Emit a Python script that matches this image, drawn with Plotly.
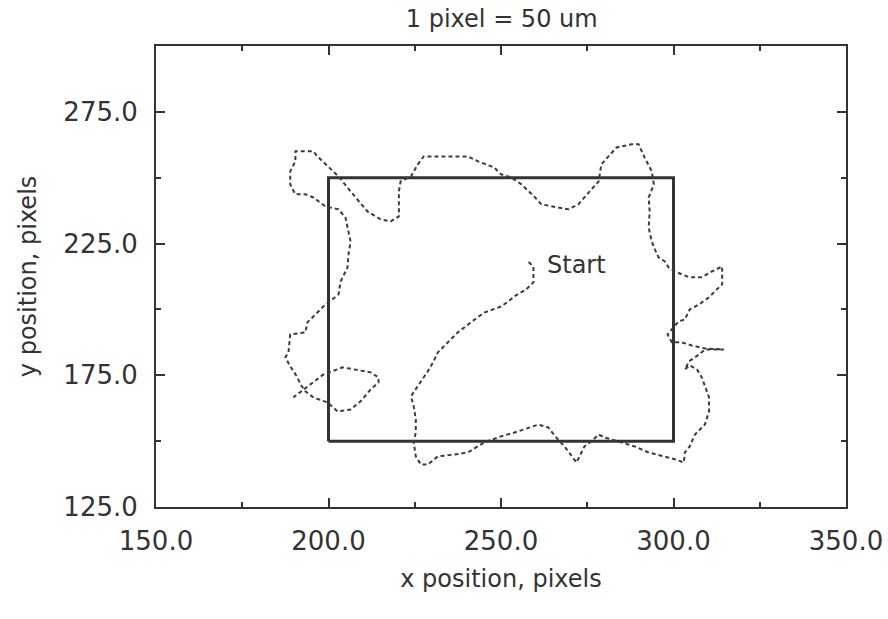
import plotly.graph_objects as go

# Cell trajectory (x, y in pixels), from "Start" to the end
path_x = [258.0, 259.4, 259.4, 257.3, 253.8, 252.1, 250.0, 245.1, 241.3, 237.5,
          234.6, 231.7, 230.3, 228.8, 226.8, 224.7, 223.9, 224.7, 225.3, 225.3,
          224.7, 225.3, 226.8, 228.8, 231.7, 236.4, 240.4, 245.1, 250.0, 255.0,
          260.8, 263.7, 266.0, 268.4, 271.9, 274.2, 276.2, 278.3, 280.0, 285.0,
          288.7, 292.8, 297.5, 300.4, 303.0, 303.3, 304.7, 306.2, 309.1, 310.3,
          310.3, 309.1, 308.2, 306.8, 304.7, 303.3, 304.5, 307.4, 309.1, 314.6,
          309.1, 305.3, 302.4, 299.5, 298.3, 299.5, 301.5, 303.3, 304.7, 307.4,
          310.3, 312.0, 314.1, 314.1, 311.1, 308.2, 304.5, 300.4, 298.6, 297.5,
          295.7, 294.6, 293.7, 292.8, 293.1, 292.8, 294.3, 293.7, 291.6, 289.9,
          287.9, 283.5, 281.2, 279.1, 278.3, 275.4, 272.4, 269.5, 265.5, 261.7,
          259.6, 255.9, 253.0, 250.0, 248.0, 243.4, 240.4, 231.7, 227.6, 225.9,
          223.9, 220.9, 220.4, 220.4, 218.0, 215.1, 211.3, 206.4, 202.9, 196.8,
          195.6, 190.4, 190.4, 188.9, 188.9, 190.4, 193.3, 195.6, 199.1, 202.9,
          204.9, 206.4, 205.8, 205.5, 203.5, 202.9, 200.0, 198.5, 195.6, 193.9,
          193.3, 188.9, 188.4, 187.5, 188.9, 191.0, 191.9, 193.3, 195.6, 199.7,
          202.6, 206.4, 209.3, 212.2, 214.5, 214.5, 212.2, 210.2, 204.1, 198.5,
          193.9, 189.8]
path_y = [218.0, 216.3, 210.3, 207.6, 204.9, 203.0, 201.1, 198.8, 195.1, 191.3,
          187.5, 183.7, 179.9, 176.5, 172.7, 168.9, 167.0, 163.2, 158.3, 153.3,
          149.5, 144.2, 141.1, 141.1, 144.2, 144.9, 145.7, 149.5, 151.8, 153.7,
          156.3, 155.2, 151.4, 148.0, 141.9, 148.0, 149.9, 152.5, 151.4, 149.5,
          148.0, 145.7, 144.2, 143.1, 141.9, 145.7, 148.0, 152.5, 156.3, 161.3,
          166.6, 170.8, 174.2, 177.2, 178.8, 177.2, 180.3, 182.9, 184.8, 184.8,
          185.2, 186.3, 187.5, 187.5, 190.5, 192.4, 195.5, 196.2, 200.0, 201.9,
          204.6, 206.9, 209.5, 216.3, 214.4, 212.2, 212.2, 214.4, 215.9, 218.2,
          219.7, 222.8, 225.8, 231.1, 237.2, 242.5, 247.5, 252.4, 257.7, 262.7,
          262.7, 261.5, 258.1, 255.1, 248.6, 244.4, 239.9, 238.0, 239.1, 239.9,
          242.9, 247.5, 250.1, 251.3, 253.9, 256.2, 258.1, 258.1, 258.1, 255.1,
          250.5, 248.6, 244.8, 235.3, 233.4, 234.2, 237.2, 244.8, 250.5, 258.1,
          260.0, 260.0, 256.2, 252.4, 247.5, 243.7, 243.7, 242.5, 239.1, 238.0,
          234.9, 225.8, 220.9, 215.9, 210.6, 205.7, 202.7, 201.1, 197.3, 195.1,
          191.3, 190.5, 183.7, 181.8, 178.4, 174.2, 171.5, 168.9, 166.6, 164.7,
          161.3, 162.0, 165.1, 169.6, 172.3, 174.2, 176.1, 176.5, 178.0, 175.3,
          170.8, 166.6]

# Reference box (200..300 x 150..250)
box_x = [200, 300, 300, 200, 200]
box_y = [150, 150, 250, 250, 150]

start_label = "Start"
start_pos = (272.0, 217.0)

x_ticks = [150, 200, 250, 300, 350]
x_labels = ["150.0", "200.0", "250.0", "300.0", "350.0"]
y_ticks = [125, 175, 225, 275]
y_labels = ["125.0", "175.0", "225.0", "275.0"]

ink = "#333333"
font_family = "DejaVu Sans"

fig = go.Figure()
fig.add_trace(go.Scatter(x=box_x, y=box_y, mode="lines",
                         line=dict(color=ink, width=3), hoverinfo="skip"))
fig.add_trace(go.Scatter(x=path_x, y=path_y, mode="lines",
                         line=dict(color="#3c3c3c", width=2, dash="4px,3px"),
                         hoverinfo="skip"))

fig.add_annotation(x=start_pos[0], y=start_pos[1], text=start_label,
                   showarrow=False, font=dict(family=font_family, size=24, color=ink))

# y-axis title placed as rotated text left of the tick labels
fig.add_annotation(xref="paper", yref="paper", x=-0.186, y=0.5,
                   xanchor="center", yanchor="middle", textangle=-90,
                   text="y position, pixels", showarrow=False,
                   font=dict(family=font_family, size=24, color=ink))

axis_common = dict(showgrid=False, zeroline=False, showline=True, linecolor=ink,
                   linewidth=2, mirror="ticks", ticks="inside", ticklen=9,
                   tickwidth=1.5, tickcolor=ink, automargin=False,
                   tickfont=dict(family=font_family, size=26, color=ink),
                   minor=dict(ticks="inside", ticklen=5, tickwidth=1.5,
                              tickcolor=ink, dtick=25, showgrid=False))

fig.update_layout(
    width=888, height=619,
    margin=dict(l=156, r=42, t=46, b=112),
    paper_bgcolor="white", plot_bgcolor="white",
    showlegend=False,
    title=dict(text="1 pixel = 50 um", x=0.565, xanchor="center", y=0.97,
               yanchor="middle", font=dict(family=font_family, size=24, color=ink)),
    xaxis=dict(range=[150, 350], tickvals=x_ticks, ticktext=x_labels,
               ticklabelstandoff=10,
               title=dict(text="x position, pixels", standoff=15,
                          font=dict(family=font_family, size=24, color=ink)),
               **axis_common),
    yaxis=dict(range=[125, 300], tickvals=y_ticks, ticktext=y_labels,
               ticklabelstandoff=11,
               **axis_common),
)

fig.write_html("out.html")
